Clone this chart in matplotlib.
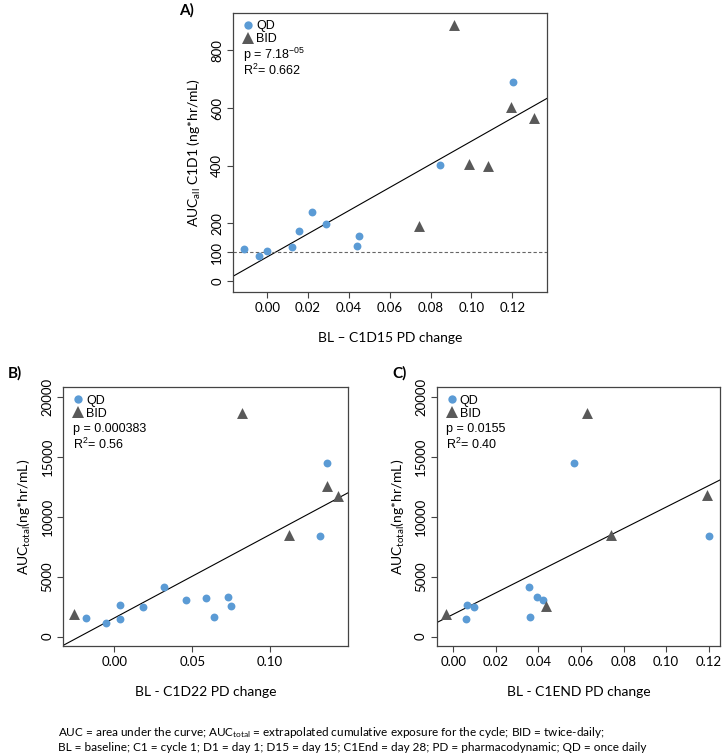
import matplotlib.pyplot as plt
import numpy as np
from matplotlib.lines import Line2D

plt.rcParams['font.family'] = ['Lato', 'DejaVu Sans']
plt.rcParams['mathtext.default'] = 'regular'

# Panel A: BL - C1D15 PD change vs AUCall C1D1
a_qd_x = [-0.0114, -0.0041, -0.0002, 0.0121, 0.0157, 0.0220, 0.0286, 0.0439, 0.0447, 0.0846, 0.1203]
a_qd_y = [113, 87, 104, 119, 175, 240, 199, 122, 155, 404, 691]
a_bid_x = [0.0914, 0.0744, 0.0986, 0.1082, 0.1192, 0.1304]
a_bid_y = [890, 190, 406, 398, 604, 565]
a_fit = (4013, 84)  # slope, intercept

# Panel B: BL - C1D22 PD change vs AUCtotal
b_qd_x = [-0.0184, -0.0054, 0.0039, 0.0036, 0.0186, 0.0317, 0.0463, 0.0589, 0.0642, 0.0730, 0.0752, 0.1323, 0.1366]
b_qd_y = [1583, 1167, 2611, 1472, 2444, 4111, 3083, 3250, 1639, 3333, 2528, 8417, 14444]
b_bid_x = [-0.0259, 0.0820, 0.1124, 0.1364, 0.1435]
b_bid_y = [1917, 18600, 8450, 12550, 11750]
b_fit = (69481, 1557)

# Panel C: BL - C1END PD change vs AUCtotal
c_qd_x = [0.0066, 0.0096, 0.0060, 0.0354, 0.0359, 0.0395, 0.0423, 0.0569, 0.1203]
c_qd_y = [2611, 2444, 1472, 4111, 1639, 3333, 3083, 14444, 8417]
c_bid_x = [-0.0033, 0.0630, 0.0434, 0.0743, 0.1192]
c_bid_y = [1880, 18600, 2570, 8450, 11780]
c_fit = (89324, 1864)

blue = '#5b9bd5'
grey = '#595959'
legend_family = ['Liberation Sans', 'DejaVu Sans']


def draw_panel(ax, qd_x, qd_y, bid_x, bid_y, fit, xlim, ylim, xticks, yticks,
               xlabel, ylabel, p_text, r2_text):
    ax.scatter(qd_x, qd_y, s=32, color=blue, marker='o', zorder=3, linewidths=0)
    ax.scatter(bid_x, bid_y, s=62, color=grey, marker='^', zorder=3, linewidths=0)
    xs = np.array(xlim)
    ax.plot(xs, fit[1] + fit[0] * xs, color='black', lw=0.8)
    ax.set_xlim(xlim)
    ax.set_ylim(ylim)
    ax.set_xticks(xticks)
    ax.set_xticklabels(['{:.2f}'.format(v) for v in xticks])
    ax.set_yticks(yticks)
    ax.set_yticklabels([str(v) for v in yticks], rotation=90, va='center')
    ax.tick_params(labelsize=9.5, length=4, width=0.8, color='#444444', pad=3)
    ax.set_xlabel(xlabel, fontsize=10, labelpad=13)
    ax.set_ylabel(ylabel, fontsize=10, labelpad=6)
    for sp in ax.spines.values():
        sp.set_color('#444444')
        sp.set_linewidth(0.9)
    handles = [Line2D([], [], ls='', marker='o', color=blue, markersize=6, markeredgewidth=0),
               Line2D([], [], ls='', marker='^', color=grey, markersize=8.5, markeredgewidth=0)]
    ax.legend(handles, ['QD', 'BID'], loc='upper left', frameon=False,
              prop={'family': legend_family, 'size': 9},
              handletextpad=0.05, handlelength=1.2, borderaxespad=0.5, labelspacing=0.08,
              borderpad=0.1)
    ax.annotate(p_text, (0, 1), xycoords='axes fraction', xytext=(7, -30),
                textcoords='offset points', va='center', ha='left',
                fontsize=9, family=legend_family)
    ax.annotate(r2_text, (0, 1), xycoords='axes fraction', xytext=(7, -41),
                textcoords='offset points', va='center', ha='left',
                fontsize=9, family=legend_family)


fig = plt.figure(figsize=(7.22, 7.55), dpi=100)

ax_a = fig.add_axes([0.3227, 0.6132, 0.4349, 0.3696])
draw_panel(ax_a, a_qd_x, a_qd_y, a_bid_x, a_bid_y, a_fit,
           (-0.0168, 0.137), (-38, 930),
           [0.0, 0.02, 0.04, 0.06, 0.08, 0.10, 0.12], [0, 100, 200, 400, 600, 800],
           'BL \u2013 C1D15 PD change', 'AUC$_{all}$ C1D1 (ng*hr/mL)',
           'p = 7.18$^{-05}$', 'R$^{2}$= 0.662')
ax_a.axhline(100, color='#666666', lw=0.8, ls=(0, (3, 2)))

ax_b = fig.add_axes([0.0877, 0.1444, 0.3947, 0.3426])
draw_panel(ax_b, b_qd_x, b_qd_y, b_bid_x, b_bid_y, b_fit,
           (-0.0328, 0.1503), (-778, 20778),
           [0.0, 0.05, 0.10], [0, 5000, 10000, 15000, 20000],
           'BL - C1D22 PD change', 'AUC$_{total}$(ng*hr/mL)',
           'p = 0.000383', 'R$^{2}$= 0.56')

ax_c = fig.add_axes([0.6048, 0.1444, 0.3924, 0.3426])
draw_panel(ax_c, c_qd_x, c_qd_y, c_bid_x, c_bid_y, c_fit,
           (-0.0078, 0.1253), (-778, 20778),
           [0.0, 0.02, 0.04, 0.06, 0.08, 0.10, 0.12], [0, 5000, 10000, 15000, 20000],
           'BL - C1END PD change', 'AUC$_{total}$(ng*hr/mL)',
           'p = 0.0155', 'R$^{2}$= 0.40')

fig.text(179 / 722, 1 - 10 / 755, 'A)', fontsize=11, fontweight='bold', va='center', ha='left')
fig.text(8 / 722, 1 - 373 / 755, 'B)', fontsize=11, fontweight='bold', va='center', ha='left')
fig.text(392 / 722, 1 - 373 / 755, 'C)', fontsize=11, fontweight='bold', va='center', ha='left')

fig.text(58 / 722, 1 - 739 / 755,
         'AUC = area under the curve; AUC$_{total}$ = extrapolated cumulative exposure for the cycle; BID = twice-daily;\n'
         'BL = baseline; C1 = cycle 1; D1 = day 1; D15 = day 15; C1End = day 28; PD = pharmacodynamic; QD = once daily',
         fontsize=8.5, va='center', ha='left', linespacing=1.25)

fig.savefig('out.png', dpi=100)
